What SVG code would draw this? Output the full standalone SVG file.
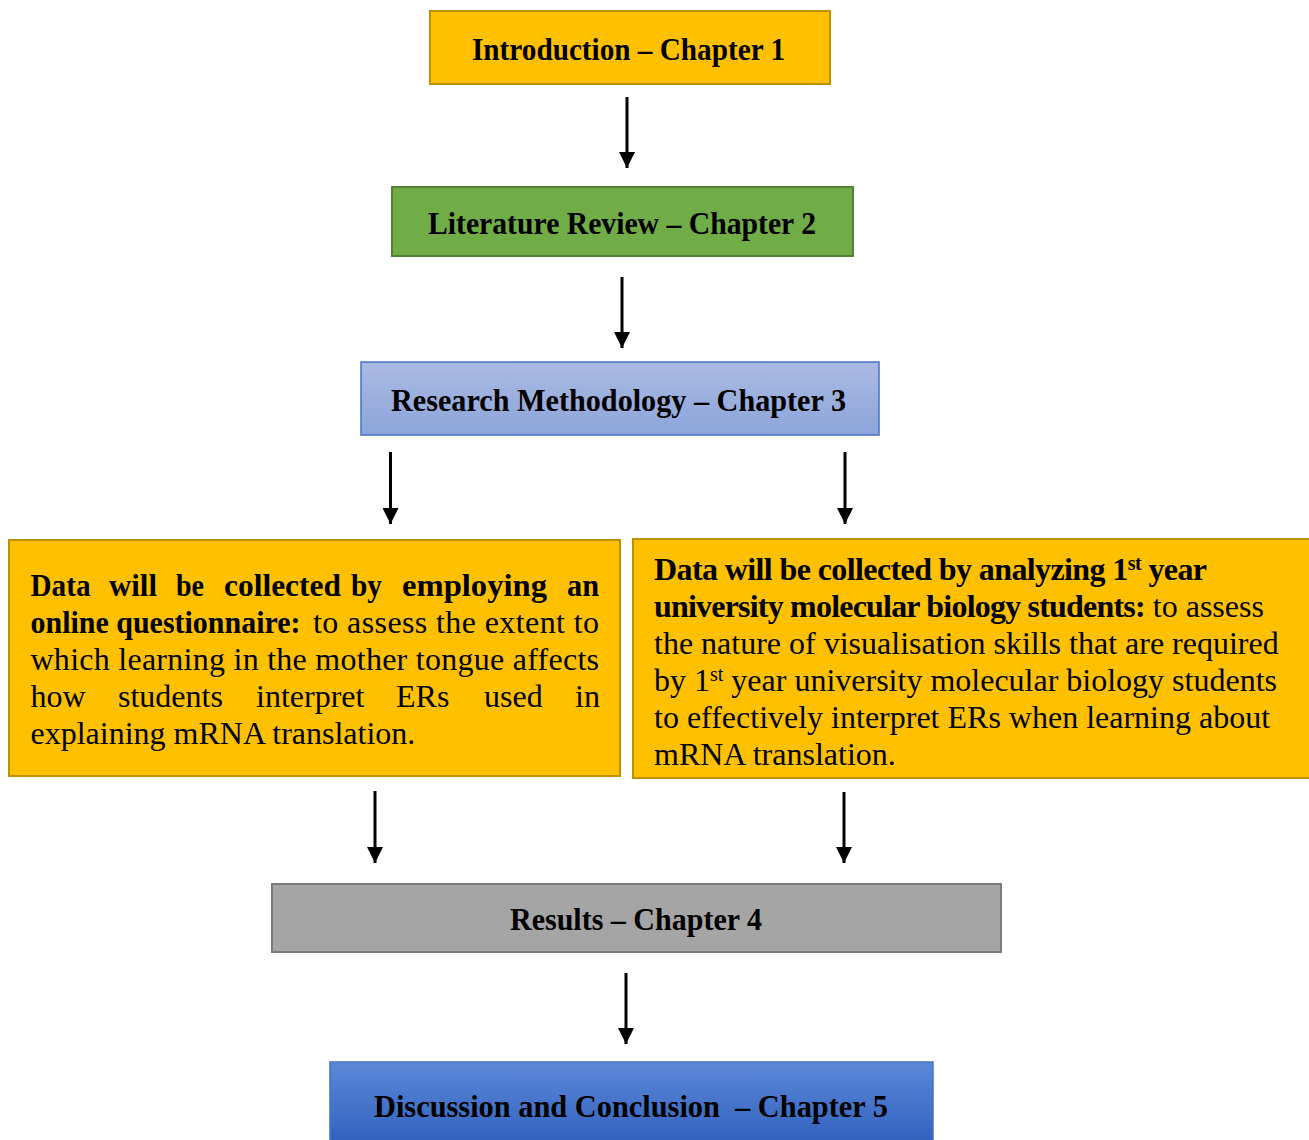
<svg xmlns="http://www.w3.org/2000/svg" width="1309" height="1140" viewBox="0 0 1309 1140">
  <style>
    .title { font-family: "Liberation Serif", "Times New Roman", serif; font-weight: bold; font-size: 32px; fill: #000; text-anchor: start; }
    .body { font-family: "Liberation Serif", "Times New Roman", serif; font-size: 32px; fill: #000; }
    .b { font-weight: bold; }
    .tight { letter-spacing: -0.6px; }
    .tighter { letter-spacing: -0.8px; }
    .sup { font-size: 20px; }
    .gold { fill: #FFC000; stroke: #BF9000; stroke-width: 2; }
    .arrow { stroke: #000; stroke-width: 3; fill: none; marker-end: url(#head); }
  </style>
  <defs>
    <marker id="head" viewBox="0 0 16 16" refX="16" refY="8" markerWidth="16" markerHeight="16" markerUnits="userSpaceOnUse" orient="auto">
      <path d="M0,0 L16,8 L0,16 Z" fill="#000"/>
    </marker>
    <linearGradient id="gradMethod" x1="0" y1="0" x2="0" y2="1">
      <stop offset="0" stop-color="#AABAE2"/>
      <stop offset="1" stop-color="#8DA5DA"/>
    </linearGradient>
    <linearGradient id="gradDiscuss" x1="0" y1="0" x2="0" y2="1">
      <stop offset="0" stop-color="#5C88D7"/>
      <stop offset="1" stop-color="#3162BF"/>
    </linearGradient>
  </defs>

  <!-- connectors -->
  <g id="connectors">
    <line class="arrow" x1="627" y1="97" x2="627" y2="168"/>
    <line class="arrow" x1="622" y1="277" x2="622" y2="348"/>
    <line class="arrow" x1="390.5" y1="452" x2="390.5" y2="524"/>
    <line class="arrow" x1="845" y1="452" x2="845" y2="524"/>
    <line class="arrow" x1="375" y1="791" x2="375" y2="863"/>
    <line class="arrow" x1="844" y1="792" x2="844" y2="863"/>
    <line class="arrow" x1="626" y1="973" x2="626" y2="1044"/>
  </g>

  <!-- chapter 1 -->
  <g id="intro">
    <rect class="gold" x="430" y="11" width="400" height="73"/>
    <text class="title" x="472" y="60" textLength="313" lengthAdjust="spacingAndGlyphs">Introduction – Chapter 1</text>
  </g>

  <!-- chapter 2 -->
  <g id="literature">
    <rect x="392" y="187" width="461" height="69" fill="#70AD47" stroke="#538135" stroke-width="2"/>
    <text class="title" x="428" y="234" textLength="388" lengthAdjust="spacingAndGlyphs">Literature Review – Chapter 2</text>
  </g>

  <!-- chapter 3 -->
  <g id="methodology">
    <rect x="361" y="362" width="518" height="73" fill="url(#gradMethod)" stroke="#4472C4" stroke-width="1.5"/>
    <text class="title" x="391" y="411" textLength="455" lengthAdjust="spacingAndGlyphs">Research Methodology – Chapter 3</text>
  </g>

  <!-- questionnaire branch -->
  <g id="questionnaire">
    <rect class="gold" x="9" y="540" width="611" height="236"/>
    <text class="body b" y="596">
      <tspan x="30.5" textLength="60" lengthAdjust="spacingAndGlyphs">Data</tspan>
      <tspan x="109" textLength="48" lengthAdjust="spacingAndGlyphs">will</tspan>
      <tspan x="176" textLength="28" lengthAdjust="spacingAndGlyphs">be</tspan>
      <tspan x="224" textLength="117" lengthAdjust="spacingAndGlyphs">collected</tspan>
      <tspan x="351" textLength="31" lengthAdjust="spacingAndGlyphs">by</tspan>
      <tspan x="402" textLength="145" lengthAdjust="spacingAndGlyphs">employing</tspan>
      <tspan x="567" textLength="32" lengthAdjust="spacingAndGlyphs">an</tspan>
    </text>
    <text class="body b" x="30.5" y="633" textLength="270" lengthAdjust="spacingAndGlyphs">online questionnaire:</text>
    <text class="body" x="313" y="633" textLength="286" lengthAdjust="spacing">to assess the extent to</text>
    <text class="body" x="30.5" y="670" textLength="568.5" lengthAdjust="spacing">which learning in the mother tongue affects</text>
    <text class="body" y="707">
      <tspan x="30.5">how</tspan>
      <tspan x="118">students</tspan>
      <tspan x="256">interpret</tspan>
      <tspan x="396">ERs</tspan>
      <tspan x="484">used</tspan>
      <tspan x="575">in</tspan>
    </text>
    <text class="body" x="30.5" y="744">explaining mRNA translation.</text>
  </g>

  <!-- student analysis branch -->
  <g id="analysis">
    <rect class="gold" x="633" y="539" width="680" height="239"/>
    <text class="body b tight" x="654" y="580">Data will be collected by analyzing 1<tspan class="sup" dy="-10">st</tspan><tspan dy="10"> year</tspan></text>
    <text class="body" x="654" y="617"><tspan class="b tighter">university molecular biology students:</tspan> to assess</text>
    <text class="body" x="654" y="654">the nature of visualisation skills that are required</text>
    <text class="body" x="654" y="691">by 1<tspan class="sup" dy="-10">st</tspan><tspan dy="10"> year university molecular biology students</tspan></text>
    <text class="body" x="654" y="728">to effectively interpret ERs when learning about</text>
    <text class="body" x="654" y="765">mRNA translation.</text>
  </g>

  <!-- chapter 4 -->
  <g id="results">
    <rect x="272" y="884" width="729" height="68" fill="#A5A5A5" stroke="#7B7B7B" stroke-width="2"/>
    <text class="title" x="510" y="930" textLength="252" lengthAdjust="spacingAndGlyphs">Results – Chapter 4</text>
  </g>

  <!-- chapter 5 -->
  <g id="discussion">
    <rect x="330" y="1062" width="603" height="80" fill="url(#gradDiscuss)" stroke="#4472C4" stroke-width="1.5"/>
    <text class="title" x="374" y="1117" textLength="514" lengthAdjust="spacingAndGlyphs" xml:space="preserve">Discussion and Conclusion  – Chapter 5</text>
  </g>
</svg>
